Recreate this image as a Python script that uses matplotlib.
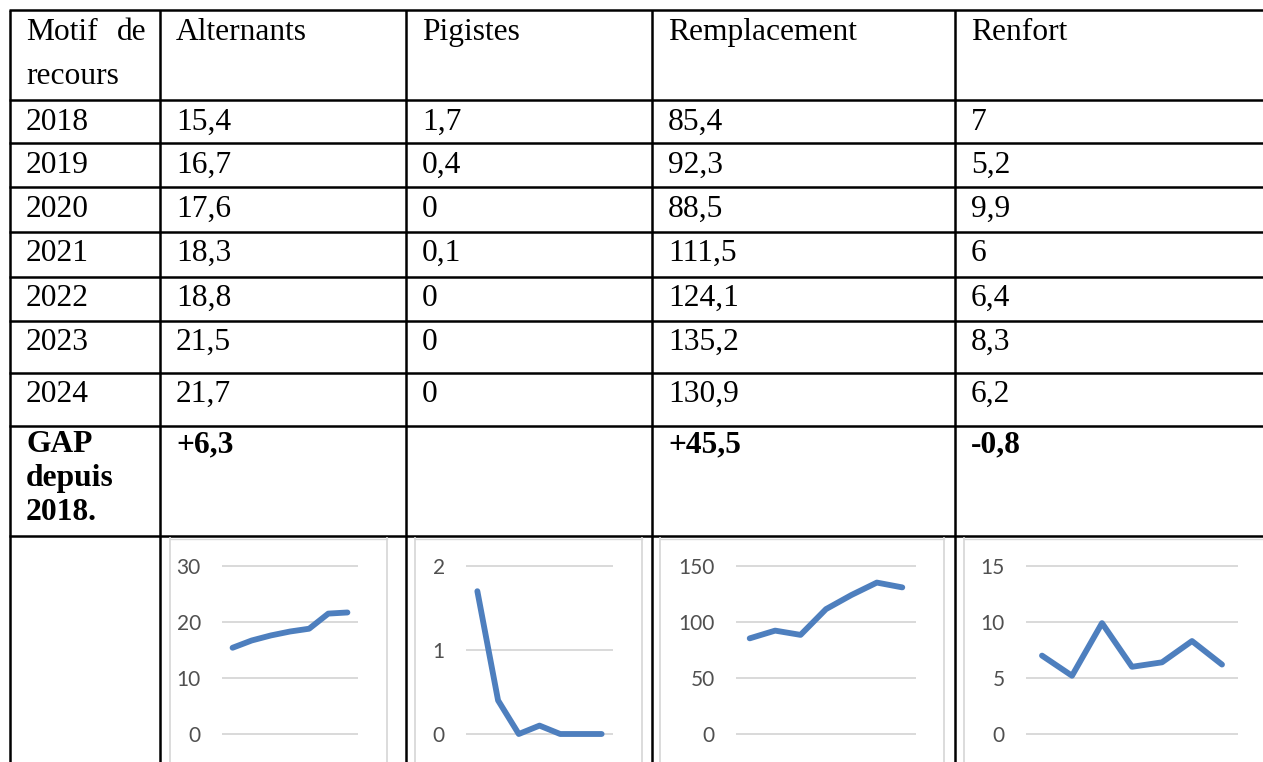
import matplotlib
matplotlib.use('Agg')
import matplotlib.pyplot as plt

# table data
header = ['Motif de recours', 'Alternants', 'Pigistes', 'Remplacement', 'Renfort']
years = [2018, 2019, 2020, 2021, 2022, 2023, 2024]
alternants = [15.4, 16.7, 17.6, 18.3, 18.8, 21.5, 21.7]
pigistes = [1.7, 0.4, 0, 0.1, 0, 0, 0]
remplacement = [85.4, 92.3, 88.5, 111.5, 124.1, 135.2, 130.9]
renfort = [7, 5.2, 9.9, 6, 6.4, 8.3, 6.2]
gap = ['+6,3', '', '+45,5', '-0,8']
series = [alternants, pigistes, remplacement, renfort]
y_max = [30, 2, 150, 15]
y_ticks = [[0, 10, 20, 30], [0, 1, 2], [0, 50, 100, 150], [0, 5, 10, 15]]

W, H = 1263, 762
fig = plt.figure(figsize=(W / 100, H / 100), dpi=100)
bg = fig.add_axes([0, 0, 1, 1])
bg.set_xlim(0, W)
bg.set_ylim(H, 0)
bg.axis('off')

# layout in pixels
col_x = [10, 160, 406, 652, 955]
row_y = [10, 100, 143.3, 187.3, 231.7, 276.7, 320.7, 372.7, 426, 536]
pad = 16
lw = 1.8
serif = 'Liberation Serif'
fs = 22.7

for y in row_y:
    bg.plot([col_x[0] - 1, W], [y, y], color='black', lw=lw, solid_capstyle='butt')
for x in col_x:
    bg.plot([x, x], [row_y[0], H], color='black', lw=lw, solid_capstyle='butt')

def fmt(v):
    return f'{v:g}'.replace('.', ',')

# header
bg.text(col_x[0] + pad, 40, 'Motif', fontsize=fs, family=serif, va='baseline')
bg.text(col_x[1] - 14, 40, 'de', fontsize=fs, family=serif, va='baseline', ha='right')
bg.text(col_x[0] + pad, 84, 'recours', fontsize=fs, family=serif, va='baseline')
for j, name in enumerate(header[1:]):
    bg.text(col_x[j + 1] + pad, 40, name, fontsize=fs, family=serif, va='baseline')

# year rows
for i, yr in enumerate(years):
    base = row_y[i + 1] + 29.5
    bg.text(col_x[0] + pad, base, str(yr), fontsize=fs, family=serif, va='baseline')
    for j, s in enumerate(series):
        bg.text(col_x[j + 1] + pad, base, fmt(s[i]), fontsize=fs, family=serif, va='baseline')

# gap row
for k, word in enumerate(['GAP', 'depuis', '2018.']):
    bg.text(col_x[0] + pad, 452 + 34 * k, word, fontsize=fs, family=serif,
            weight='bold', va='baseline')
for j, g in enumerate(gap):
    bg.text(col_x[j + 1] + pad, 452, g, fontsize=fs, family=serif, weight='bold', va='baseline')

# sparkline charts
frames = [(170, 387), (415, 642), (660, 944), (964, 1300)]
grids = [(223, 357), (467, 612), (737, 915), (1027, 1237)]
g_top, g_bot = 566, 734
gray = '#d9d9d9'
for (fl, fr) in frames:
    bg.plot([fl, fl], [538, H], color=gray, lw=1.3)
    bg.plot([fr, fr], [538, H], color=gray, lw=1.3)
    bg.plot([fl, fr], [538.5, 538.5], color=gray, lw=1.0)

for j, s in enumerate(series):
    x0, x1 = grids[j]
    ax = fig.add_axes([x0 / W, (H - g_bot) / H, (x1 - x0) / W, (g_bot - g_top) / H])
    ax.patch.set_alpha(0)
    ax.plot(range(len(s)), s, color='#4e7fbe', lw=4.2, solid_capstyle='round',
            solid_joinstyle='round', clip_on=False, zorder=3)
    ax.set_xlim(-0.5, len(s) - 0.5)
    ax.set_ylim(0, y_max[j])
    ax.set_yticks(y_ticks[j])
    ax.set_yticklabels([str(t) for t in y_ticks[j]], family='Lato', fontsize=15, color='#505050')
    ax.set_xticks([])
    ax.tick_params(axis='y', length=0, pad=16)
    ax.grid(axis='y', color=gray, lw=1.4, clip_on=False)
    for sp in ax.spines.values():
        sp.set_visible(False)

fig.savefig('out.png', dpi=100)
